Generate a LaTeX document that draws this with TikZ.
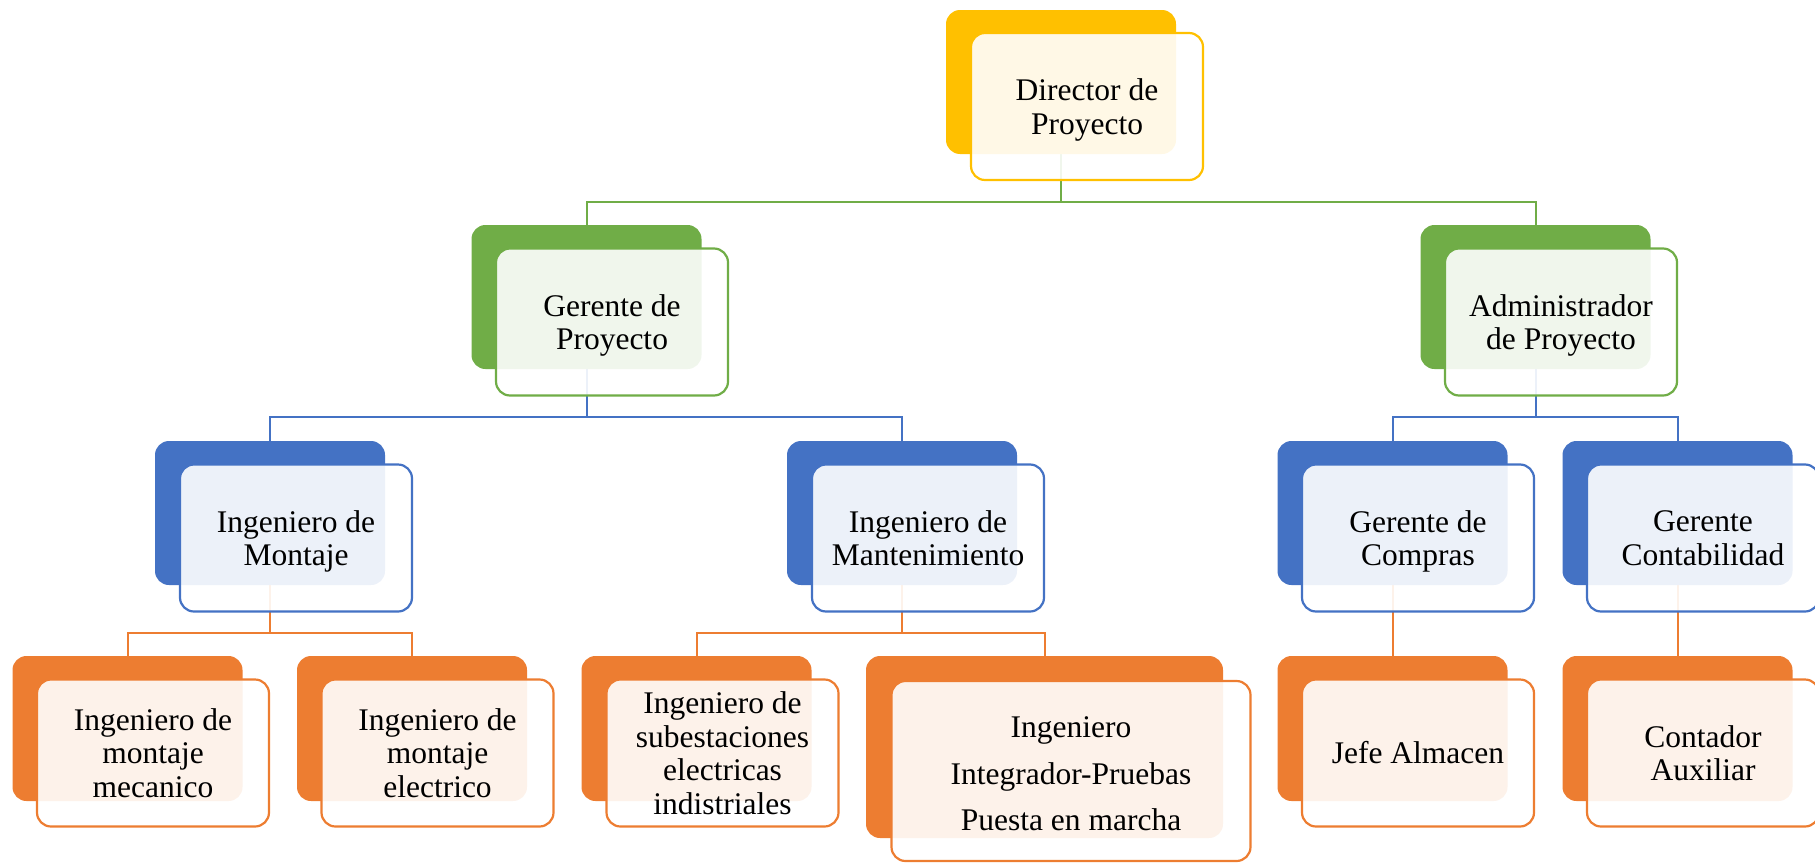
\documentclass[tikz,border=0pt]{standalone}
\usepackage{fontspec}
\setmainfont{Liberation Serif}
\usetikzlibrary{backgrounds}
\definecolor{cyel}{HTML}{FFC000}
\definecolor{cgrn}{HTML}{70AD47}
\definecolor{cblu}{HTML}{4472C4}
\definecolor{corg}{HTML}{ED7D31}
\newcommand\boxfont{\fontsize{31.5}{33.5}\selectfont}
\tikzset{
  backbox/.style={draw=none, fill=#1, rounded corners=14pt, minimum width=230pt, minimum height=144pt, inner sep=0pt},
  frontbox/.style={draw=#1, line width=2.2pt, fill=white, fill opacity=0.9, text opacity=1, rounded corners=14pt, minimum width=232pt, minimum height=147pt, align=center, font=\boxfont, inner sep=0pt, text=black},
  conn/.style={draw=#1, line width=2pt},
}
\begin{document}
\begin{tikzpicture}[x=1pt,y=-1pt]
\useasboundingbox (0,0) rectangle (1815,862);
% level 0
\node[backbox=cyel] (d) at (1061,82) {};
\node[frontbox=cyel, text depth=0pt] (dF) at (1087,106.5) {Director de\\Proyecto};
% level 1
\node[backbox=cgrn] (g) at (586.5,297) {};
\node[frontbox=cgrn, text depth=0pt] (gF) at (612,322) {Gerente de\\Proyecto};
\node[backbox=cgrn] (a) at (1535.5,297) {};
\node[frontbox=cgrn, text depth=0pt] (aF) at (1561,322) {Administrador\\de Proyecto};
% level 2
\node[backbox=cblu] (m) at (270,513) {};
\node[frontbox=cblu, text depth=0pt] (mF) at (296,538) {Ingeniero de\\Montaje};
\node[backbox=cblu] (t) at (902,513) {};
\node[frontbox=cblu] (tF) at (928,538) {Ingeniero de\\Mantenimiento};
\node[backbox=cblu] (c) at (1392.5,513) {};
\node[frontbox=cblu, text depth=0pt] (cF) at (1418,538) {Gerente de\\Compras};
\node[backbox=cblu] (k) at (1677.5,513) {};
\node[frontbox=cblu] (kF) at (1703,538) {Gerente\\Contabilidad};
% level 3
\node[backbox=corg, minimum height=145pt] (mm) at (127.5,728.5) {};
\node[frontbox=corg] (mmF) at (153,753) {Ingeniero de\\montaje\\mecanico};
\node[backbox=corg, minimum height=145pt] (me) at (412,728.5) {};
\node[frontbox=corg] (meF) at (437.5,753) {Ingeniero de\\montaje\\electrico};
\node[backbox=corg, minimum height=145pt] (s) at (696.5,728.5) {};
\node[frontbox=corg] (sF) at (722.5,753) {Ingeniero de\\subestaciones\\electricas\\indistriales};
\node[backbox=corg, minimum width=357pt, minimum height=182pt] (i) at (1044.5,747) {};
\node[frontbox=corg, minimum width=359pt, minimum height=180pt] (iF) at (1071,771) {};
\node[font=\boxfont, align=center, inner sep=0pt] (iT) at (1071,774) {Ingeniero\\[13pt]Integrador-Pruebas\\[13pt]Puesta en marcha};
\node[backbox=corg, minimum height=145pt] (j) at (1392.5,728.5) {};
\node[frontbox=corg] (jF) at (1418,753) {Jefe Almacen};
\node[backbox=corg, minimum height=145pt] (ca) at (1677.5,728.5) {};
\node[frontbox=corg] (caF) at (1703,753) {Contador\\Auxiliar};
% connectors
\begin{scope}[on background layer]
\draw[conn=cgrn] (d.south) -- ++(0,48) -| (g.north);
\draw[conn=cgrn] (d.south) -- ++(0,48) -| (a.north);
\draw[conn=cblu] (g.south) -- ++(0,48) -| (m.north);
\draw[conn=cblu] (g.south) -- ++(0,48) -| (t.north);
\draw[conn=cblu] (a.south) -- ++(0,48) -| (c.north);
\draw[conn=cblu] (a.south) -- ++(0,48) -| (k.north);
\draw[conn=corg] (m.south) -- ++(0,48) -| (mm.north);
\draw[conn=corg] (m.south) -- ++(0,48) -| (me.north);
\draw[conn=corg] (t.south) -- ++(0,48) -| (s.north);
\draw[conn=corg] (t.south) -- ++(0,48) -| (i.north);
\draw[conn=corg] (c.south) -- (j.north);
\draw[conn=corg] (k.south) -- (ca.north);
\end{scope}
\end{tikzpicture}
\end{document}
